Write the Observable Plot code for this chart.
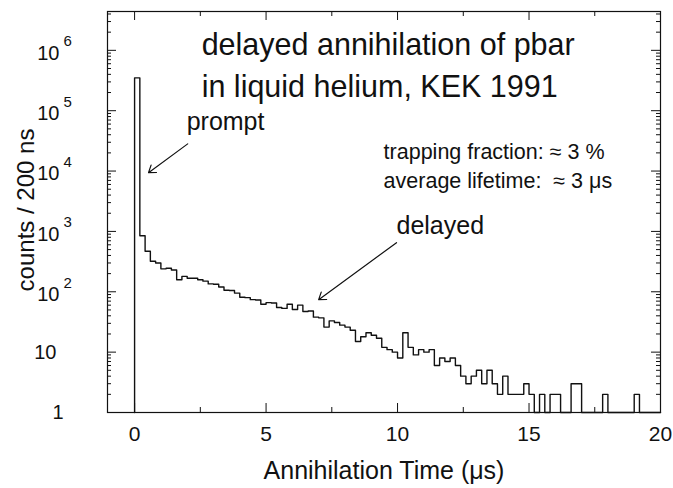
<!DOCTYPE html>
<html>
<head>
<meta charset="utf-8">
<script src="https://cdn.jsdelivr.net/npm/d3@7"></script>
<script src="https://cdn.jsdelivr.net/npm/@observablehq/plot@0.6"></script>
<style>
  html, body { margin: 0; padding: 0; background: #fff; }
  svg { font-family: "Liberation Sans", Arial, Helvetica, sans-serif; }
</style>
</head>
<body>
<div id="chart"></div>
<script>
// Bin start times (µs), 200 ns bins
const binStart = [
  0.0, 0.2, 0.4, 0.6, 0.8, 1.0, 1.2, 1.4, 1.6, 1.8,
  2.0, 2.2, 2.4, 2.6, 2.8, 3.0, 3.2, 3.4, 3.6, 3.8,
  4.0, 4.2, 4.4, 4.6, 4.8, 5.0, 5.2, 5.4, 5.6, 5.8,
  6.0, 6.2, 6.4, 6.6, 6.8, 7.0, 7.2, 7.4, 7.6, 7.8,
  8.0, 8.2, 8.4, 8.6, 8.8, 9.0, 9.2, 9.4, 9.6, 9.8,
  10.0, 10.2, 10.4, 10.6, 10.8, 11.0, 11.2, 11.4, 11.6, 11.8,
  12.0, 12.2, 12.4, 12.6, 12.8, 13.0, 13.2, 13.4, 13.6, 13.8,
  14.0, 14.2, 14.4, 14.6, 14.8, 15.0, 15.2, 15.4, 15.6, 15.8,
  16.0, 16.2, 16.4, 16.6, 16.8, 17.0, 17.2, 17.4, 17.6, 17.8,
  18.0, 18.2, 18.4, 18.6, 18.8, 19.0, 19.2, 19.4, 19.6, 19.8
];
const binEnd = 20.0;
// Counts per 200 ns bin
const counts = [
  350000, 850, 470, 320, 300, 240, 245, 230, 158, 180,
  168, 168, 158, 150, 135, 133, 120, 106, 105, 95,
  81, 80, 74, 73, 62, 66, 65, 55, 53, 62,
  51, 60, 47, 48, 38, 37, 26, 33, 31, 28,
  26, 23, 15, 18, 21, 19, 17, 12, 11, 10,
  8, 21, 12, 9, 11, 10, 11, 6, 8, 7,
  8, 6, 4, 3, 4, 5, 3, 5, 3, 2,
  4, 2, 2, 2, 3, 2, 1, 2, 1, 2,
  2, 1, 1, 3, 3, 1, 1, 1, 1, 2,
  1, 1, 1, 1, 1, 2, 1, 1, 1, 1
];

// Axis ticks
const xMajorTicks = [0, 5, 10, 15, 20];
const xMinorTicks = [2.5, 7.5, 12.5, 17.5];
const xTickLabels = ["0", "5", "10", "15", "20"];
const yMajorTicks = [1, 10, 100, 1000, 10000, 100000, 1000000];
const yTickBase = ["1", "10", "10", "10", "10", "10", "10"];
const yTickExp = ["", "", "2", "3", "4", "5", "6"];
const yMinorMult = [2, 3, 4, 5, 6, 7, 8, 9];

const xDomain = [-1.03, 20];
const yDomain = [1, 4.4e6];

// build step line points
const steps = [{t: binStart[0], c: 1}];
binStart.forEach((t, i) => steps.push({t, c: counts[i]}));
steps.push({t: binEnd, c: counts[counts.length - 1]});

const yMinor = [];
yMajorTicks.forEach(d => yMinorMult.forEach(m => { if (d * m < yDomain[1]) yMinor.push(d * m); }));

const W = 673, H = 488;
const mL = 107, mR = 13, mT = 11, mB = 76;
const fw = W - mL - mR, fh = H - mT - mB;

const yTicks = yMajorTicks.map((v, i) => ({v, base: yTickBase[i], exp: yTickExp[i]}));
const xTicks = xMajorTicks.map((v, i) => ({v, label: xTickLabels[i]}));

const font = "Liberation Sans, Arial, Helvetica, sans-serif";

const plot = Plot.plot({
  width: W, height: H,
  marginLeft: mL, marginRight: mR, marginTop: mT, marginBottom: mB,
  style: {fontFamily: font, background: "white"},
  x: {domain: xDomain, axis: null},
  y: {type: "log", domain: yDomain, axis: null},
  marks: [
    // histogram
    Plot.line(steps, {x: "t", y: "c", curve: "step-after", stroke: "#111", strokeWidth: 1.4}),
    // ticks (inside frame)
    Plot.tickY(yMajorTicks, {y: d => d, insetRight: fw - 9, stroke: "#111"}),
    Plot.tickY(yMajorTicks, {y: d => d, insetLeft: fw - 9, stroke: "#111"}),
    Plot.tickY(yMinor, {y: d => d, insetRight: fw - 4, stroke: "#111"}),
    Plot.tickY(yMinor, {y: d => d, insetLeft: fw - 4, stroke: "#111"}),
    Plot.tickX(xMajorTicks, {x: d => d, insetTop: fh - 9, stroke: "#111"}),
    Plot.tickX(xMajorTicks, {x: d => d, insetBottom: fh - 9, stroke: "#111"}),
    Plot.tickX(xMinorTicks, {x: d => d, insetTop: fh - 5, stroke: "#111"}),
    Plot.tickX(xMinorTicks, {x: d => d, insetBottom: fh - 5, stroke: "#111"}),
    Plot.frame({stroke: "#111", strokeWidth: 1.2}),
    // x tick labels
    Plot.text(xTicks, {x: "v", text: "label", frameAnchor: "bottom", dy: 28, fontSize: 21, fill: "#111"}),
    // y tick labels
    Plot.text(yTicks.filter(d => d.base === "1"), {y: "v", text: "base", frameAnchor: "left", dx: -44, textAnchor: "end", fontSize: 20, fill: "#111"}),
    Plot.text(yTicks.filter(d => d.base === "10" && d.exp === ""), {y: "v", text: "base", frameAnchor: "left", dx: -51, textAnchor: "end", fontSize: 20, fill: "#111"}),
    Plot.text(yTicks.filter(d => d.exp !== ""), {y: "v", text: "base", frameAnchor: "left", dx: -48, dy: 3, textAnchor: "end", fontSize: 20, fill: "#111"}),
    Plot.text(yTicks.filter(d => d.exp !== ""), {y: "v", text: "exp", frameAnchor: "left", dx: -44, dy: -9, textAnchor: "start", fontSize: 15, fill: "#111"}),
    // axis titles
    Plot.text(["Annihilation Time (\u03bcs)"], {frameAnchor: "bottom", dy: 66, textAnchor: "middle", fontSize: 25, fill: "#111"}),
    Plot.text(["counts / 200 ns"], {frameAnchor: "left", dx: -81, dy: -2, rotate: -90, textAnchor: "middle", fontSize: 24, fill: "#111"}),
    // annotations
    Plot.text(["delayed annihilation of pbar"], {x: 2.55, y: 8.45e5, textAnchor: "start", lineAnchor: "bottom", fontSize: 30.5, fill: "#111"}),
    Plot.text(["in liquid helium, KEK 1991"], {x: 2.55, y: 1.7e5, textAnchor: "start", lineAnchor: "bottom", fontSize: 30.5, fill: "#111"}),
    Plot.text(["prompt"], {x: 1.98, y: 48400, textAnchor: "start", lineAnchor: "bottom", fontSize: 25, fill: "#111"}),
    Plot.text(["trapping fraction: \u2248 3 %"], {x: 9.47, y: 16000, textAnchor: "start", lineAnchor: "bottom", fontSize: 21.5, fill: "#111"}),
    Plot.text(["average lifetime:  \u2248 3 \u03bcs"], {x: 9.47, y: 5300, textAnchor: "start", lineAnchor: "bottom", fontSize: 21.5, fill: "#111"}),
    Plot.text(["delayed"], {x: 9.96, y: 915, textAnchor: "start", lineAnchor: "bottom", fontSize: 25, fill: "#111"}),
    Plot.arrow([0], {x1: 2.02, y1: 28200, x2: 0.53, y2: 9400, stroke: "#111", strokeWidth: 1.2, headAngle: 70, headLength: 10}),
    Plot.arrow([0], {x1: 9.96, y1: 650, x2: 7.0, y2: 74, stroke: "#111", strokeWidth: 1.2, headAngle: 70, headLength: 10})
  ]
});
document.getElementById("chart").appendChild(plot);
</script>
</body>
</html>
